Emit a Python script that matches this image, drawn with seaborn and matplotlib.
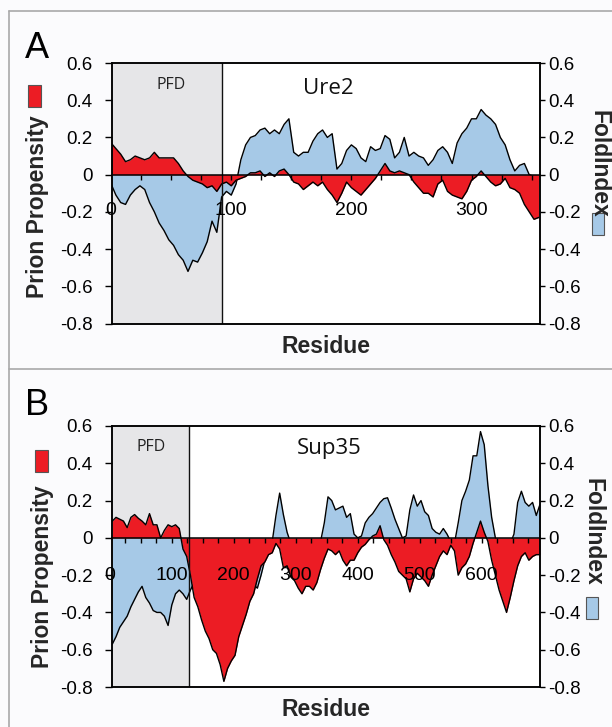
import numpy as np
import pandas as pd
import matplotlib
matplotlib.use("Agg")
import matplotlib.pyplot as plt
import seaborn as sns
from matplotlib.patches import Rectangle
from matplotlib.lines import Line2D

# ---------------- data ----------------
ure2_residue = list(range(0, 360, 4))
ure2_prion = [0.17, 0.14, 0.11, 0.07, 0.08, 0.10, 0.09, 0.08, 0.09, 0.12,
              0.09, 0.09, 0.09, 0.09, 0.06, 0.02, -0.01, -0.03, -0.04, -0.05,
              -0.07, -0.06, -0.09, -0.05, -0.04, -0.06, -0.03, -0.02, -0.01, 0.01,
              0.01, 0.02, -0.01, 0.01, -0.01, 0.02, 0.03, 0.00, -0.04, -0.05,
              -0.08, -0.06, -0.04, -0.06, -0.04, -0.08, -0.11, -0.15, -0.10, -0.04,
              -0.07, -0.09, -0.11, -0.08, -0.05, -0.02, 0.02, 0.06, 0.02, 0.01,
              0.02, 0.01, 0.00, -0.04, -0.07, -0.10, -0.10, -0.12, -0.05, -0.03,
              -0.09, -0.11, -0.12, -0.13, -0.09, -0.03, -0.01, 0.02, -0.01, -0.04,
              -0.06, -0.05, -0.02, -0.07, -0.08, -0.10, -0.16, -0.20, -0.24, -0.23]
ure2_fold = [-0.05, -0.11, -0.15, -0.16, -0.11, -0.08, -0.06, -0.08, -0.15, -0.20,
             -0.26, -0.30, -0.35, -0.38, -0.43, -0.46, -0.52, -0.46, -0.47, -0.42,
             -0.36, -0.25, -0.31, -0.12, -0.09, -0.11, -0.05, 0.08, 0.16, 0.20,
             0.21, 0.24, 0.25, 0.22, 0.24, 0.22, 0.27, 0.30, 0.12, 0.10,
             0.12, 0.12, 0.18, 0.22, 0.24, 0.20, 0.22, 0.03, 0.06, 0.13,
             0.16, 0.14, 0.09, 0.07, 0.15, 0.13, 0.14, 0.21, 0.19, 0.09,
             0.12, 0.20, 0.10, 0.12, 0.10, 0.09, 0.05, 0.08, 0.13, 0.15,
             0.12, 0.06, 0.17, 0.22, 0.25, 0.30, 0.30, 0.35, 0.32, 0.30,
             0.27, 0.20, 0.16, 0.08, 0.02, 0.05, 0.06, 0.00, -0.01, -0.01]

sup35_residue = list(range(4, 700, 6))
sup35_prion = [0.09, 0.11, 0.10, 0.09, 0.055, 0.11, 0.125, 0.105, 0.09, 0.07,
               0.13, 0.07, 0.07, 0.00, 0.04, 0.07, 0.06, 0.07, 0.05, -0.06,
               -0.10, -0.20, -0.32, -0.37, -0.44, -0.50, -0.54, -0.60, -0.62, -0.68,
               -0.77, -0.70, -0.66, -0.63, -0.53, -0.47, -0.41, -0.34, -0.30, -0.22,
               -0.15, -0.13, -0.09, -0.08, -0.03, -0.06, -0.16, -0.15, -0.21, -0.23,
               -0.27, -0.30, -0.26, -0.26, -0.28, -0.24, -0.17, -0.11, -0.06, -0.07,
               -0.09, -0.07, -0.12, -0.15, -0.12, -0.12, -0.08, -0.05, -0.035, -0.01,
               0.01, 0.02, 0.065, -0.01, -0.04, -0.09, -0.13, -0.18, -0.20, -0.22,
               -0.29, -0.22, -0.19, -0.21, -0.23, -0.26, -0.20, -0.15, -0.10, -0.07,
               -0.09, -0.04, -0.07, -0.20, -0.16, -0.14, -0.10, -0.03, 0.03, 0.09,
               0.03, -0.02, -0.12, -0.20, -0.28, -0.34, -0.40, -0.32, -0.23, -0.15,
               -0.10, -0.08, -0.12, -0.10, -0.09, -0.09]
sup35_fold = [-0.57, -0.53, -0.48, -0.45, -0.42, -0.37, -0.33, -0.29, -0.26, -0.32,
              -0.35, -0.39, -0.40, -0.40, -0.42, -0.47, -0.36, -0.30, -0.28, -0.30,
              -0.33, -0.28, -0.24, -0.22, -0.25, -0.21, -0.23, -0.20, -0.24, -0.22,
              -0.21, -0.24, -0.22, -0.25, -0.23, -0.26, -0.24, -0.27, -0.25, -0.27,
              -0.20, -0.12, -0.06, -0.02, 0.12, 0.24, 0.125, 0.03, -0.03, -0.05,
              -0.04, -0.06, -0.05, -0.07, -0.04, -0.05, -0.02, 0.08, 0.22, 0.20,
              0.15, 0.16, 0.17, 0.11, 0.13, 0.02, 0.00, 0.01, 0.08, 0.11,
              0.13, 0.16, 0.19, 0.21, 0.215, 0.16, 0.10, 0.05, 0.00, 0.01,
              0.15, 0.23, 0.17, 0.20, 0.14, 0.12, 0.05, 0.03, 0.02, 0.05,
              0.02, -0.02, -0.03, 0.08, 0.20, 0.25, 0.31, 0.44, 0.44, 0.57,
              0.50, 0.28, 0.11, 0.00, -0.03, -0.02, -0.04, -0.03, 0.02, 0.19,
              0.25, 0.19, 0.17, 0.19, 0.12, 0.18]

y_ticks = [-0.8, -0.6, -0.4, -0.2, 0, 0.2, 0.4, 0.6]
y_tick_labels = ["-0.8", "-0.6", "-0.4", "-0.2", "0", "0.2", "0.4", "0.6"]
ure2_xticks = [0, 100, 200, 300]
sup35_xticks = [0, 100, 200, 300, 400, 500, 600]

# ---------------- style ----------------
sns.set_theme(style="white")
plt.rcParams["font.family"] = ["Liberation Sans", "DejaVu Sans"]
plt.rcParams["axes.unicode_minus"] = False

RED = "#ec1c24"
BLUE = "#a6c9e7"
GRAY = "#e6e6e8"
BG = "#fbfbfd"

W, H = 612, 727
fig = plt.figure(figsize=(W / 100, H / 100), dpi=100, facecolor=BG)


def fx(px):
    return px / W


def fy(py):
    return 1 - py / H


# panel frames (gray)
fig.add_artist(Line2D([fx(9), fx(9)], [fy(11), fy(727)], color="#a9a9a9", lw=1.2))
fig.add_artist(Line2D([fx(9), 1], [fy(11), fy(11)], color="#a9a9a9", lw=1.2))
fig.add_artist(Line2D([fx(9), 1], [fy(369), fy(369)], color="#a9a9a9", lw=1.2))

panels = [
    dict(letter="A", name="Ure2", res=ure2_residue, prion=ure2_prion, fold=ure2_fold,
         xticks=ure2_xticks, xlim=(1, 357), pfd=92, top=63, bottom=323.5,
         lab_y=-0.146, name_xy=(181, 0.431), pfd_xy=(50, 0.46),
         letter_base=58, red_sq=(27.5, 85, 13, 22), blue_sq=(591.5, 213, 12, 22),
         ylab=(37.5, 207), flab=(599, 164), res_base=353.5),
    dict(letter="B", name="Sup35", res=sup35_residue, prion=sup35_prion, fold=sup35_fold,
         xticks=sup35_xticks, xlim=(4, 694), pfd=127, top=426, bottom=687,
         lab_y=-0.155, name_xy=(354, 0.448), pfd_xy=(67, 0.464),
         letter_base=415, red_sq=(35, 450, 12.5, 22), blue_sq=(585.5, 597, 12, 22),
         ylab=(42, 577), flab=(593, 532), res_base=716.5),
]

for p in panels:
    left, right = 112.3, 540
    ax = fig.add_axes([fx(left), fy(p["bottom"]), (right - left) / W,
                       (p["bottom"] - p["top"]) / H])
    ax.set_facecolor("white")
    df = pd.DataFrame({"residue": p["res"], "prion": p["prion"], "fold": p["fold"]})

    # PFD shaded region
    ax.axvspan(p["xlim"][0], p["pfd"], facecolor=GRAY, edgecolor="none", zorder=0.2)
    ax.axvline(p["pfd"], color="#111111", lw=1.0, zorder=2)

    # FoldIndex (blue) below, Prion propensity (red) on top; both share the same scale
    ax.fill_between(df["residue"], df["fold"], 0, color=BLUE, lw=0, zorder=1.1)
    sns.lineplot(data=df, x="residue", y="fold", ax=ax, color="black", lw=1.0,
                 estimator=None, sort=False, zorder=1.2)
    ax.fill_between(df["residue"], df["prion"], 0, color=RED, lw=0, zorder=1.3)
    sns.lineplot(data=df, x="residue", y="prion", ax=ax, color="black", lw=1.0,
                 estimator=None, sort=False, zorder=1.4)

    ax.set_xlim(*p["xlim"])
    ax.set_ylim(-0.8, 0.6)
    ax.set_xlabel("")
    ax.set_ylabel("")
    ax.set_xticks([])
    ax.set_yticks(y_ticks, y_tick_labels)
    ax.tick_params(axis="y", left=True, direction="out", length=5, width=1,
                   pad=9, labelsize=13.5, colors="black")
    for s in ax.spines.values():
        s.set_visible(True)
        s.set_color("black")
        s.set_linewidth(1.1)

    # zero axis line with small ticks (drawn over the areas)
    sec = ax.secondary_xaxis(0, transform=ax.transData)
    sec.set_zorder(3)
    sec.set_ticks(list(range(0, int(p["xlim"][1]) + 1, 25)))
    sec.tick_params(axis="x", direction="out", length=3.5, width=1, colors="black",
                    labelbottom=False, labeltop=False)
    for name, s in sec.spines.items():
        s.set_visible(name == "bottom")
    sec.spines["bottom"].set_color("black")
    sec.spines["bottom"].set_linewidth(1.1)

    # residue labels just below the zero line, drawn over the areas
    for t in p["xticks"]:
        ax.text(t, p["lab_y"], str(t), ha="center", va="top", fontsize=14,
                color="black", zorder=5, clip_on=False)

    # right axis (FoldIndex)
    ax2 = ax.twinx()
    ax2.set_ylim(-0.8, 0.6)
    ax2.set_yticks(y_ticks, y_tick_labels)
    ax2.grid(False)
    ax2.tick_params(axis="y", right=True, direction="out", length=3.6, width=1,
                    pad=2, labelsize=13.5, colors="black")
    for s in ax2.spines.values():
        s.set_color("black")
        s.set_linewidth(1.1)

    # in-plot texts
    ax.text(p["name_xy"][0], p["name_xy"][1], p["name"], ha="center", va="baseline",
            fontsize=16, family="Open Sans", color="#111111", zorder=4)
    ax.text(p["pfd_xy"][0], p["pfd_xy"][1], "PFD", ha="center", va="baseline",
            fontsize=11.5, family="Open Sans", color="#222222", zorder=4)

    # panel letter, axis titles, colour keys
    fig.text(fx(25), fy(p["letter_base"]), p["letter"], fontsize=26,
             ha="left", va="baseline", color="black")
    fig.text(fx(p["ylab"][0]), fy(p["ylab"][1]), "Prion Propensity", rotation=90,
             ha="center", va="center", fontsize=16.5, fontweight="bold")
    fig.text(fx(p["flab"][0]), fy(p["flab"][1]), "FoldIndex", rotation=-90,
             ha="center", va="center", fontsize=16.5, fontweight="bold")
    fig.text(fx(326), fy(p["res_base"]), "Residue", ha="center", va="baseline",
             fontsize=16.5, fontweight="bold")
    rx, ry, rw, rh = p["red_sq"]
    fig.add_artist(Rectangle((fx(rx), fy(ry + rh)), rw / W, rh / H,
                             facecolor=RED, edgecolor="#555555", lw=0.8))
    bx, by, bw, bh = p["blue_sq"]
    fig.add_artist(Rectangle((fx(bx), fy(by + bh)), bw / W, bh / H,
                             facecolor=BLUE, edgecolor="#555555", lw=0.8))

fig.savefig("out.png", dpi=100, facecolor=BG)
